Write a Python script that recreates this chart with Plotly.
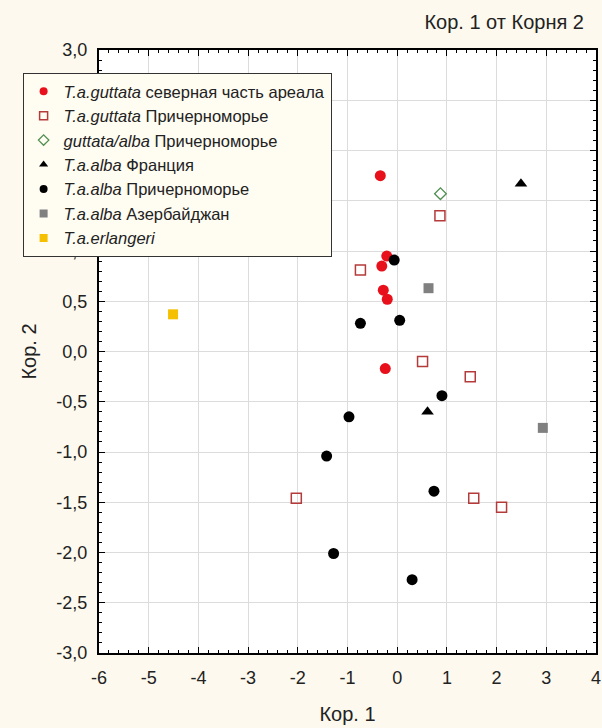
import plotly.graph_objects as go

# Root 1 (x) and Root 2 (y) scores per group
gut_north_x = [-0.34, -0.21, -0.31, -0.28, -0.20, -0.24]
gut_north_y = [1.75, 0.95, 0.85, 0.61, 0.52, -0.17]

gut_black_x = [0.86, -0.74, 0.51, 1.47, -2.03, 1.54, 2.10]
gut_black_y = [1.35, 0.81, -0.10, -0.25, -1.46, -1.46, -1.55]

gutalba_x = [0.87]
gutalba_y = [1.57]

alba_fr_x = [2.49, 0.61]
alba_fr_y = [1.67, -0.60]

alba_black_x = [-0.06, -0.74, 0.05, 0.90, -0.97, -1.42, 0.74, -1.28, 0.30]
alba_black_y = [0.91, 0.28, 0.31, -0.44, -0.65, -1.04, -1.39, -2.01, -2.27]

alba_az_x = [0.63, 2.93]
alba_az_y = [0.63, -0.76]

erl_x = [-4.51]
erl_y = [0.37]

names = [
    "<i>T.a.guttata</i> северная часть ареала",
    "<i>T.a.guttata</i> Причерноморье",
    "<i>guttata/alba</i> Причерноморье",
    "<i>T.a.alba</i> Франция",
    "<i>T.a.alba</i> Причерноморье",
    "<i>T.a.alba</i> Азербайджан",
    "<i>T.a.erlangeri</i>",
]

x_tickvals = [-6, -5, -4, -3, -2, -1, 0, 1, 2, 3, 4]
x_ticktext = ["-6", "-5", "-4", "-3", "-2", "-1", "0", "1", "2", "3", "4"]
y_tickvals = [-3.0, -2.5, -2.0, -1.5, -1.0, -0.5, 0.0, 0.5, 1.0, 1.5, 2.0, 2.5, 3.0]
y_ticktext = ["-3,0", "-2,5", "-2,0", "-1,5", "-1,0", "-0,5", "0,0", "0,5", "1,0",
              "1,5", "2,0", "2,5", "3,0"]

series = [
    (gut_north_x, gut_north_y, dict(symbol="circle", color="#e8101a"), 11),
    (gut_black_x, gut_black_y, dict(symbol="square-open", color="#b53a3a", line=dict(width=1.5)), 10),
    (gutalba_x, gutalba_y, dict(symbol="diamond-open", color="#4f8f4f", line=dict(width=1.3)), 9),
    (alba_fr_x, alba_fr_y, dict(symbol="triangle-up", color="#000000"), 11),
    (alba_black_x, alba_black_y, dict(symbol="circle", color="#000000"), 11),
    (alba_az_x, alba_az_y, dict(symbol="square", color="#808080"), 10),
    (erl_x, erl_y, dict(symbol="square", color="#f5c000"), 10),
]

fig = go.Figure()
for (xs, ys, mk, sz), nm in zip(series, names):
    fig.add_trace(go.Scatter(x=xs, y=ys, mode="markers", name=nm,
                             marker=dict(mk, size=sz), showlegend=False))
# legend-only entries with smaller symbols
for (xs, ys, mk, sz), nm in zip(series, names):
    fig.add_trace(go.Scatter(x=[None], y=[None], mode="markers", name=nm,
                             marker=dict(mk, size=8), showlegend=True))

axis_common = dict(
    showline=True, linecolor="black", linewidth=2, mirror="allticks",
    ticks="inside", ticklen=6, tickcolor="black",
    showgrid=True, gridcolor="#dcdcdc", gridwidth=1, zeroline=False,
    ticklabeloverflow="allow",
    tickfont=dict(family="Liberation Sans, Arial", size=18, color="#222"),
)

fig.update_layout(
    width=602, height=728,
    paper_bgcolor="#fdf9ee", plot_bgcolor="white",
    margin=dict(l=99, r=1, t=50, b=75),
    font=dict(family="Liberation Sans, Arial", size=16, color="#222"),
    title=dict(text="Кор. 1 от Корня 2", x=0.970, xanchor="right", y=0.9698, yanchor="middle",
               font=dict(size=20, color="#222")),
    xaxis=dict(range=[-6, 4], tickvals=x_tickvals, ticktext=x_ticktext,
               ticklabelstandoff=7,
               title=dict(text="Кор. 1", font=dict(size=20), standoff=20),
               minor=dict(ticks="inside", dtick=0.2, ticklen=3, tickcolor="black", showgrid=False),
               **axis_common),
    yaxis=dict(range=[-3, 3], tickvals=y_tickvals, ticktext=y_ticktext,
               ticklabelstandoff=6,
               title=dict(text="Кор. 2", font=dict(size=20), standoff=14),
               minor=dict(ticks="inside", dtick=0.1, ticklen=3, tickcolor="black", showgrid=False),
               **axis_common),
    legend=dict(x=-0.1537, xanchor="left", y=0.9619, yanchor="top",
                bgcolor="#fffcf2", bordercolor="#333", borderwidth=1,
                font=dict(size=16.5, color="#222"),
                tracegroupgap=0),
    showlegend=True,
)

fig.write_html(
    "out.html",
    config={"displayModeBar": False},
    post_script=("document.body.style.margin='0';"
                 "document.body.style.overflow='hidden';"
                 "document.documentElement.style.overflow='hidden';"),
)
